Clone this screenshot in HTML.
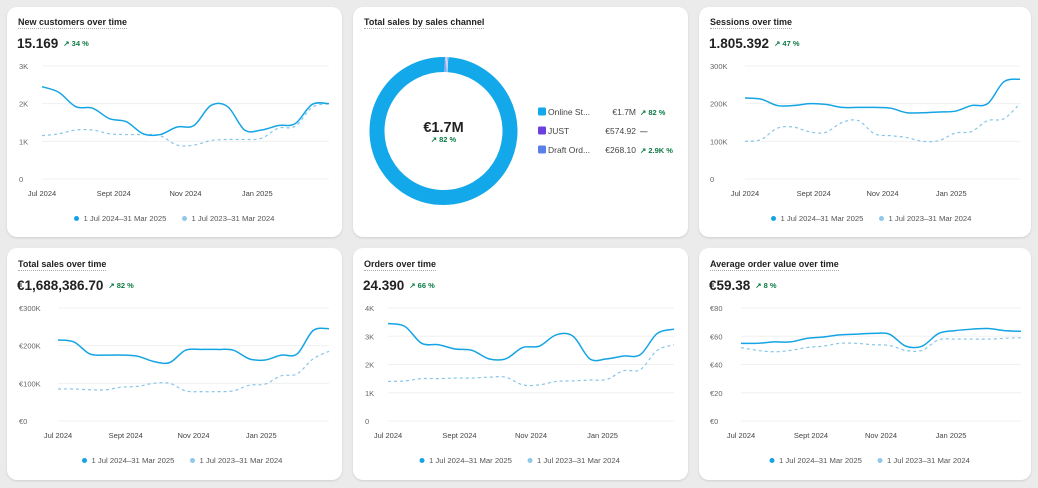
<!DOCTYPE html>
<html><head><meta charset="utf-8">
<style>
body{margin:0;width:1038px;height:488px;background:#ebebeb;font-family:"Liberation Sans",sans-serif;position:relative;overflow:hidden}
.card{position:absolute;background:#fff;border-radius:10px;box-shadow:0 1px 2px rgba(0,0,0,.12)}
.title{position:absolute;font-size:9px;font-weight:bold;color:#222;border-bottom:1px dotted #aaa;padding-bottom:1px;white-space:nowrap}
.big{position:absolute;font-size:13.5px;font-weight:bold;color:#222;white-space:nowrap}
.pct{font-size:7.5px;color:#0c7a43;font-weight:bold;margin-left:5px;vertical-align:2px}
svg{position:absolute;left:0;top:0}
</style></head><body>
<div class="card" style="left:7px;top:7px;width:335px;height:230px"></div>
<div class="card" style="left:353px;top:7px;width:335px;height:230px"></div>
<div class="card" style="left:699px;top:7px;width:332px;height:230px"></div>
<div class="card" style="left:7px;top:248px;width:335px;height:232px"></div>
<div class="card" style="left:353px;top:248px;width:335px;height:232px"></div>
<div class="card" style="left:699px;top:248px;width:332px;height:232px"></div>

<div class="title" style="left:18px;top:17px">New customers over time</div>
<div class="big" style="left:17px;top:36px">15.169<span class="pct">↗ 34 %</span></div>
<div class="title" style="left:364px;top:17px">Total sales by sales channel</div>
<div class="title" style="left:710px;top:17px">Sessions over time</div>
<div class="big" style="left:709px;top:36px">1.805.392<span class="pct">↗ 47 %</span></div>
<div class="title" style="left:18px;top:259px">Total sales over time</div>
<div class="big" style="left:17px;top:278px">€1,688,386.70<span class="pct">↗ 82 %</span></div>
<div class="title" style="left:364px;top:259px">Orders over time</div>
<div class="big" style="left:363px;top:278px">24.390<span class="pct">↗ 66 %</span></div>
<div class="title" style="left:710px;top:259px">Average order value over time</div>
<div class="big" style="left:709px;top:278px">€59.38<span class="pct">↗ 8 %</span></div>

<svg id="s" width="1038" height="488"></svg>
<script>
const months=["Jul 2024","Sept 2024","Nov 2024","Jan 2025"];
const nc_cur=[2.45,2.3,1.92,1.88,1.6,1.52,1.2,1.18,1.38,1.42,1.95,1.92,1.3,1.3,1.42,1.47,1.98,2.0];
const nc_prev=[1.15,1.2,1.3,1.3,1.2,1.18,1.18,1.15,0.9,0.9,1.02,1.05,1.05,1.08,1.35,1.4,1.9,2.0];
const nc_ticks=["0","1K","2K","3K"];
const se_cur=[215,212,195,195,200,198,190,190,190,188,176,176,178,180,195,200,258,265];
const se_prev=[100,105,135,138,125,124,150,155,120,115,110,100,102,122,126,155,160,200];
const se_ticks=["0","100K","200K","300K"];
const ts_cur=[215,210,178,175,175,172,158,155,188,190,190,188,165,162,175,178,240,245];
const ts_prev=[85,85,83,83,90,92,100,100,80,78,78,80,95,98,120,125,165,185];
const ts_ticks=["€0","€100K","€200K","€300K"];
const or_cur=[3.45,3.35,2.75,2.7,2.55,2.5,2.2,2.2,2.6,2.65,3.05,3.0,2.2,2.2,2.3,2.35,3.1,3.25];
const or_prev=[1.4,1.42,1.5,1.5,1.52,1.52,1.55,1.55,1.28,1.28,1.4,1.42,1.45,1.47,1.78,1.82,2.5,2.7];
const or_ticks=["0","1K","2K","3K","4K"];
const av_cur=[55,55,56,56,58.5,59.5,61,61.5,62,61.5,53,53,62,64,65,65.5,64,63.5];
const av_prev=[52,50,49,50,52,53,55,55,54,53.5,50,50,57.5,58,58,58,58.5,59];
const av_ticks=["€0","€20","€40","€60","€80"];
const ch_names=["Online St...","JUST","Draft Ord..."];
const ch_values=[1688000,574.92,268.10];
const ch_labels=["€1.7M","€574.92","€268.10"];
const ch_changes=["↗ 82 %","—","↗ 2.9K %"];

const S=document.getElementById('s'),NS="http://www.w3.org/2000/svg";
function el(t,a,txt){const e=document.createElementNS(NS,t);for(const k in a)e.setAttribute(k,a[k]);if(txt!=null)e.textContent=txt;S.appendChild(e);return e;}
function path(pts){let d="M"+pts[0][0]+","+pts[0][1];for(let i=0;i<pts.length-1;i++){const p0=pts[i-1]||pts[i],p1=pts[i],p2=pts[i+1],p3=pts[i+2]||p2;
d+=" C"+(p1[0]+(p2[0]-p0[0])/6)+","+(p1[1]+(p2[1]-p0[1])/6)+" "+(p2[0]-(p3[0]-p1[0])/6)+","+(p2[1]-(p3[1]-p1[1])/6)+" "+p2[0]+","+p2[1];}return d;}
function chart(name,x0,x1,y0,y1,ticks,max,cur,prev,tx,legY){
  const sx=i=>x0+(x1-x0)*i/(cur.length-1),sy=v=>y1-(y1-y0)*v/max;
  ticks.forEach((t,i)=>{const y=y1-(y1-y0)*i/(ticks.length-1);
    const g=el('line',{x1:x0,x2:x1,y1:y,y2:y,stroke:'#f0f0f0','stroke-width':1});
    
    
    const l=el('text',{x:tx,y:y+3,'font-size':7.5,fill:'#666'},t);
    
    });
  months.forEach((m,i)=>{const l=el('text',{x:x0+(x1-x0)*i/4,y:y1+17,'font-size':7.5,fill:'#444','text-anchor':'middle'},m);
    
    });
  const p=el('path',{d:path(prev.map((v,i)=>[sx(i),sy(v)])),fill:'none',stroke:'#86c6e8','stroke-width':1.2,'stroke-dasharray':'3 3'});
  
  
  const c=el('path',{d:path(cur.map((v,i)=>[sx(i),sy(v)])),fill:'none',stroke:'#14a4e4','stroke-width':1.5});
  
  
  const mid=(x0+x1)/2-15;
  const d1=el('circle',{cx:mid-94,cy:legY-2.5,r:2.5,fill:'#14a4e4'});
  
  
  const t1=el('text',{x:mid-87,y:legY,'font-size':7.7,fill:'#555'},"1 Jul 2024–31 Mar 2025");
  
  
  const d2=el('circle',{cx:mid+14,cy:legY-2.5,r:2.5,fill:'#90c8e8'});
  
  
  const t2=el('text',{x:mid+21,y:legY,'font-size':7.7,fill:'#555'},"1 Jul 2023–31 Mar 2024");
  
  
}
chart('new-customers',42,329,66,179,nc_ticks,3,nc_cur,nc_prev,19,221);
chart('sessions',745,1020,66,179,se_ticks,300,se_cur,se_prev,710,221);
chart('total-sales',58,329,308,421,ts_ticks,300,ts_cur,ts_prev,19,463);
chart('orders',388,674,308,421,or_ticks,4,or_cur,or_prev,365,463);
chart('aov',741,1021,308,421,av_ticks,80,av_cur,av_prev,710,463);

// donut
const cx=443.5,cy=131,R=66.5,W=15;
const colors=["#13a8e9","#6b3fe0","#5b7fe8"];
const total=ch_values.reduce((a,b)=>a+b,0);
const minA=0.018;
let angs=ch_values.map(v=>Math.max(v/total*2*Math.PI,minA));
const sumA=angs.reduce((a,b)=>a+b,0);angs=angs.map(a=>a*2*Math.PI/sumA);
let a0=-Math.PI/2+angs[1]+angs[2]+0.03;
[0,1,2].forEach(i=>{const a1=a0+angs[i]-0.01;
  const large=(a1-a0)>Math.PI?1:0;
  const pt=a=>[cx+R*Math.cos(a),cy+R*Math.sin(a)];
  const [xa,ya]=pt(a0),[xb,yb]=pt(a1);
  const s=el('path',{d:`M${xa},${ya} A${R},${R} 0 ${large} 1 ${xb},${yb}`,fill:'none',stroke:colors[i],'stroke-width':W});
  
  
  a0=a1+0.01;
});
const cv=el('text',{x:cx,y:cy+1,'font-size':14.5,'font-weight':'bold',fill:'#222','text-anchor':'middle'},ch_labels[0]);


const cp=el('text',{x:cx,y:cy+11,'font-size':7.5,'font-weight':'bold',fill:'#0c7a43','text-anchor':'middle'},ch_changes[0]);


ch_names.forEach((n,i)=>{const y=112+i*19;
  const r=el('rect',{x:538,y:y-4.5,width:8,height:8,rx:1.5,fill:colors[i]});
  
  
  const t=el('text',{x:548,y:y+3,'font-size':8.5,fill:'#444'},n);
  
  
  const v=el('text',{x:636,y:y+3,'font-size':8.5,fill:'#444','text-anchor':'end'},ch_labels[i]);
  
  
  const c=el('text',{x:640,y:y+3,'font-size':7.5,'font-weight':'bold',fill:i==1?'#444':'#0c7a43'},ch_changes[i]);
  
  
});
</script>
</body></html>
